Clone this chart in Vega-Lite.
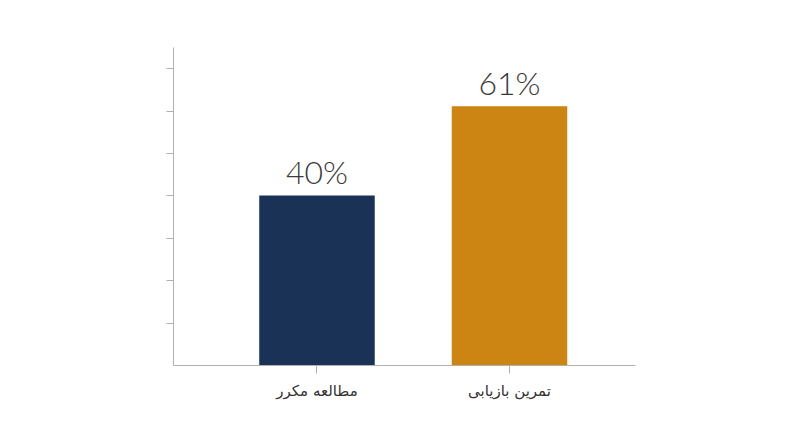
{
  "$schema": "https://vega.github.io/schema/vega-lite/v6.json",
  "autosize": {"type": "none"},
  "padding": {"left": 173, "top": 47, "right": 165, "bottom": 82},
  "width": 462,
  "height": 318,
  "background": "white",
  "config": {"view": {"stroke": null}},
  "data": {
    "values": [
      {"method": "مطالعه مکرر", "pct": 40, "label": "40%"},
      {"method": "تمرین بازیابی", "pct": 61, "label": "61%"}
    ]
  },
  "encoding": {
    "x": {
      "field": "method",
      "type": "nominal",
      "sort": null,
      "scale": {"paddingInner": 0.4, "paddingOuter": 0.4, "align": 0.56},
      "axis": {
        "title": null,
        "labelAngle": 0,
        "labelFont": "DejaVu Sans",
        "labelFontSize": 15,
        "labelColor": "#333333",
        "labelPadding": 10,
        "domainColor": "#b0b0b0",
        "tickColor": "#b0b0b0",
        "tickSize": 8
      }
    },
    "y": {
      "field": "pct",
      "type": "quantitative",
      "scale": {"domain": [0, 75], "nice": false},
      "axis": {
        "title": null,
        "labels": false,
        "grid": false,
        "values": [10, 20, 30, 40, 50, 60, 70],
        "domainColor": "#b0b0b0",
        "tickColor": "#b0b0b0",
        "tickSize": 7
      }
    }
  },
  "layer": [
    {
      "mark": {"type": "bar"},
      "encoding": {
        "color": {
          "field": "method",
          "type": "nominal",
          "sort": null,
          "scale": {"range": ["#1a3256", "#cc8413"]},
          "legend": null
        }
      }
    },
    {
      "mark": {
        "type": "text",
        "baseline": "alphabetic",
        "dy": -11,
        "font": "Lato",
        "fontWeight": 300,
        "fontSize": 32,
        "color": "#3a3a3a"
      },
      "encoding": {
        "text": {"field": "label", "type": "nominal"}
      }
    }
  ]
}
